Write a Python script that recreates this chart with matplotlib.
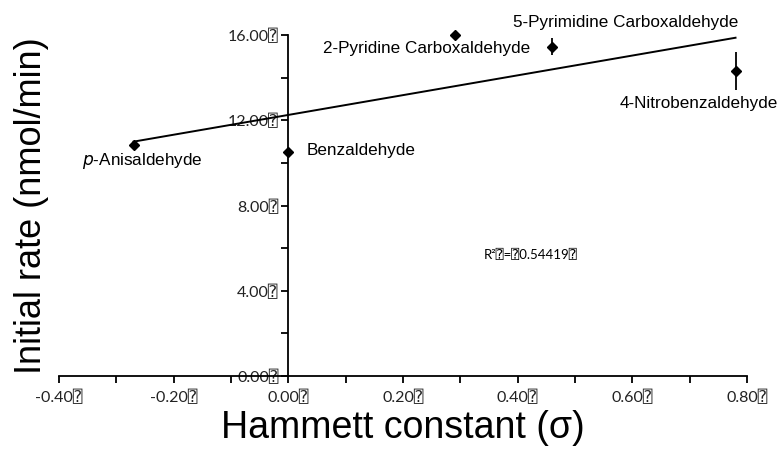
import matplotlib
matplotlib.use("Agg")
import matplotlib.pyplot as plt
import numpy as np
from matplotlib.ticker import MultipleLocator, FuncFormatter

# Hammett sigma vs initial rate
names = ["$p$-Anisaldehyde", "Benzaldehyde", "2-Pyridine Carboxaldehyde",
         "5-Pyrimidine Carboxaldehyde", "4-Nitrobenzaldehyde"]
sigma = [-0.27, 0.0, 0.29, 0.46, 0.78]
rate = [10.85, 10.5, 16.0, 15.45, 14.3]
rate_err = [0.1, 0.2, 0.1, 0.4, 0.9]
r2_text = "R\u00b2\u2370=\u23700.54419\u2370"
box = "\u2370"

tick_font = ["Lato", "DejaVu Sans", "DejaVu Sans Mono"]
label_font = ["Liberation Sans", "DejaVu Sans"]

fig = plt.figure(figsize=(7.84, 4.55), dpi=100)
ax = fig.add_axes([59 / 784, 1 - 376 / 455, (747 - 59) / 784, (376 - 35) / 455])

ax.errorbar(sigma, rate, yerr=rate_err, fmt="D", color="black", markersize=5,
            elinewidth=1.3, capsize=0, clip_on=False, zorder=3)

# linear trendline
k, b = np.polyfit(sigma, rate, 1)
xs = np.array([min(sigma), max(sigma)])
ax.plot(xs, k * xs + b, color="black", lw=1.4)

ax.set_xlim(-0.4, 0.8)
ax.set_ylim(0, 16)

ax.spines["top"].set_visible(False)
ax.spines["right"].set_visible(False)
ax.spines["left"].set_position(("data", 0))
ax.spines["bottom"].set_position(("data", 0))
ax.spines["left"].set_linewidth(1.3)
ax.spines["bottom"].set_linewidth(1.3)

ax.xaxis.set_major_locator(MultipleLocator(0.2))
ax.xaxis.set_minor_locator(MultipleLocator(0.1))
ax.yaxis.set_major_locator(MultipleLocator(4))
ax.yaxis.set_minor_locator(MultipleLocator(2))
fmt = FuncFormatter(lambda v, p: f"{v:.2f}{box}")
ax.xaxis.set_major_formatter(fmt)
ax.yaxis.set_major_formatter(fmt)
ax.tick_params(which="both", direction="out", width=1.3, colors="black", length=5)
ax.tick_params(axis="x", pad=5)
ax.tick_params(axis="y", pad=2)
for t in ax.get_xticklabels() + ax.get_yticklabels():
    t.set_family(tick_font)
    t.set_fontsize(11.5)
    t.set_color("#222222")

# point labels (left edge, vertical centre)
lab_pos = [(-0.36, 10.1), (0.032, 10.6), (0.06, 15.35),
           (0.392, 16.6), (0.578, 12.8)]
for n, (lx, ly) in zip(names, lab_pos):
    ax.text(lx, ly, n, fontsize=12.3, family=label_font, ha="left", va="center",
            clip_on=False)

ax.text(0.34, 5.68, r2_text, fontsize=9.5, family=tick_font, va="center")

ax.set_xlabel("Hammett constant (\u03c3)", fontsize=27, family=label_font)
ax.xaxis.set_label_coords(0.5, -0.1)
ax.set_ylabel("Initial rate (nmol/min)", fontsize=26, family=label_font)
ax.yaxis.set_label_coords(-0.014, 0.5)

fig.savefig("out.png", dpi=100)
